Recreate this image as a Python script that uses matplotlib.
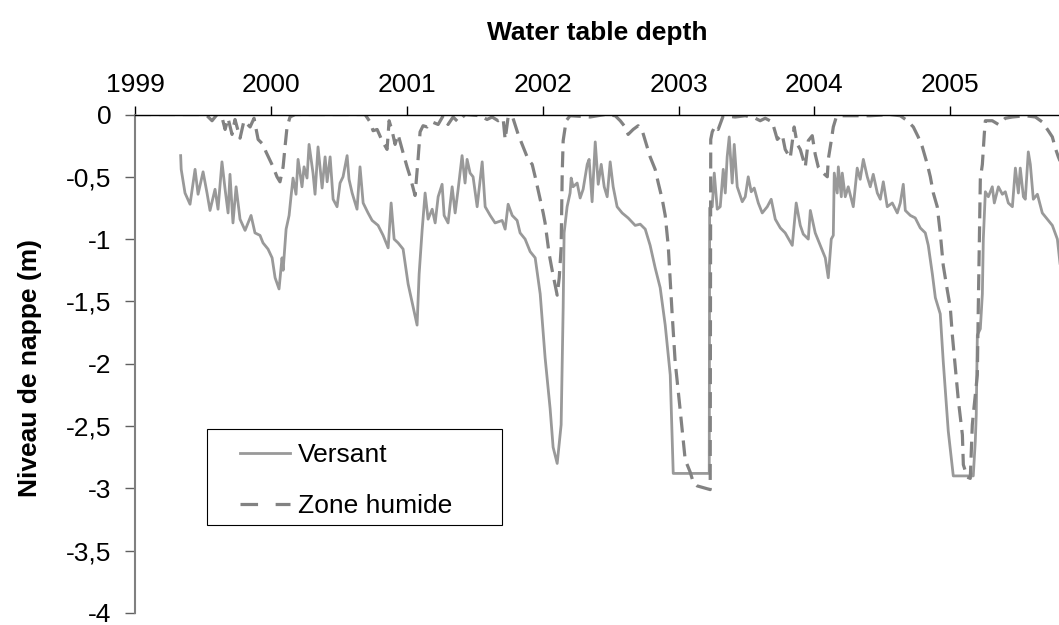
import numpy as np
import matplotlib
matplotlib.use("Agg")
import matplotlib.pyplot as plt
from matplotlib.patches import Rectangle
from matplotlib.lines import Line2D
from matplotlib.ticker import FuncFormatter

plt.rcParams['font.family'] = ['Liberation Sans', 'DejaVu Sans']

# decimal years / water table depth (m)
versant_t = [1999.336, 1999.340, 1999.368, 1999.405, 1999.442, 1999.464, 1999.501, 1999.530,
             1999.552, 1999.589, 1999.611, 1999.640, 1999.663, 1999.685, 1999.699, 1999.721,
             1999.744, 1999.773, 1999.810, 1999.854, 1999.883, 1999.920, 1999.942, 1999.979,
             2000.009, 2000.031, 2000.060, 2000.082, 2000.090, 2000.112, 2000.134, 2000.148,
             2000.163, 2000.185, 2000.200, 2000.229, 2000.244, 2000.266, 2000.281, 2000.310,
             2000.325, 2000.347, 2000.377, 2000.399, 2000.414, 2000.436, 2000.458, 2000.487,
             2000.509, 2000.531, 2000.561, 2000.575, 2000.598, 2000.634, 2000.656, 2000.679,
             2000.715, 2000.745, 2000.789, 2000.826, 2000.863, 2000.885, 2000.907, 2000.936,
             2000.973, 2001.010, 2001.076, 2001.091, 2001.113, 2001.135, 2001.157, 2001.187,
             2001.209, 2001.231, 2001.260, 2001.275, 2001.304, 2001.334, 2001.356, 2001.378,
             2001.407, 2001.429, 2001.444, 2001.466, 2001.488, 2001.518, 2001.555, 2001.577,
             2001.614, 2001.650, 2001.702, 2001.724, 2001.746, 2001.776, 2001.812, 2001.834,
             2001.871, 2001.908, 2001.945, 2001.967, 2001.982, 2002.018, 2002.055, 2002.077,
             2002.107, 2002.136, 2002.151, 2002.158, 2002.180, 2002.202, 2002.210, 2002.224,
             2002.254, 2002.276, 2002.298, 2002.328, 2002.342, 2002.364, 2002.387, 2002.409,
             2002.431, 2002.453, 2002.475, 2002.497, 2002.519, 2002.548, 2002.585, 2002.629,
             2002.681, 2002.718, 2002.755, 2002.791, 2002.828, 2002.865, 2002.902, 2002.939,
             2002.961, 2003.226, 2003.229, 2003.248, 2003.263, 2003.285, 2003.307, 2003.329,
             2003.344, 2003.358, 2003.373, 2003.395, 2003.410, 2003.432, 2003.469, 2003.491,
             2003.513, 2003.535, 2003.557, 2003.587, 2003.616, 2003.653, 2003.682, 2003.712,
             2003.749, 2003.785, 2003.837, 2003.866, 2003.896, 2003.918, 2003.955, 2003.970,
             2004.006, 2004.043, 2004.080, 2004.102, 2004.124, 2004.139, 2004.146, 2004.168,
             2004.176, 2004.198, 2004.205, 2004.227, 2004.249, 2004.286, 2004.315, 2004.337,
             2004.360, 2004.389, 2004.411, 2004.433, 2004.463, 2004.485, 2004.507, 2004.536,
             2004.573, 2004.610, 2004.632, 2004.654, 2004.669, 2004.706, 2004.742, 2004.779,
             2004.816, 2004.838, 2004.868, 2004.890, 2004.926, 2004.948, 2004.985, 2005.015,
             2005.022, 2005.169, 2005.184, 2005.191, 2005.199, 2005.221, 2005.236, 2005.243,
             2005.258, 2005.280, 2005.309, 2005.324, 2005.354, 2005.383, 2005.405, 2005.427,
             2005.457, 2005.479, 2005.501, 2005.515, 2005.538, 2005.552, 2005.574, 2005.589,
             2005.611, 2005.641, 2005.677, 2005.714, 2005.751, 2005.788, 2005.810]
versant_d = [-0.33, -0.44, -0.63, -0.72, -0.44, -0.64, -0.46, -0.63,
             -0.77, -0.60, -0.76, -0.38, -0.60, -0.79, -0.48, -0.87,
             -0.58, -0.84, -0.93, -0.81, -0.95, -0.97, -1.03, -1.08,
             -1.15, -1.31, -1.40, -1.15, -1.25, -0.92, -0.81, -0.66,
             -0.51, -0.64, -0.36, -0.58, -0.42, -0.51, -0.24, -0.47,
             -0.64, -0.26, -0.59, -0.34, -0.54, -0.34, -0.68, -0.74,
             -0.55, -0.50, -0.33, -0.52, -0.63, -0.76, -0.42, -0.71,
             -0.79, -0.85, -0.89, -0.97, -1.07, -0.71, -1.00, -1.03,
             -1.08, -1.36, -1.69, -1.28, -0.93, -0.63, -0.84, -0.76,
             -0.87, -0.66, -0.56, -0.81, -0.87, -0.58, -0.79, -0.60,
             -0.33, -0.55, -0.36, -0.47, -0.50, -0.74, -0.38, -0.74,
             -0.81, -0.87, -0.85, -0.92, -0.72, -0.81, -0.85, -0.95,
             -1.00, -1.10, -1.15, -1.32, -1.44, -1.95, -2.36, -2.67,
             -2.80, -2.49, -1.55, -0.95, -0.74, -0.63, -0.51, -0.58,
             -0.55, -0.67, -0.60, -0.40, -0.36, -0.70, -0.22, -0.56,
             -0.40, -0.58, -0.66, -0.38, -0.58, -0.74, -0.79, -0.83,
             -0.89, -0.88, -0.92, -1.05, -1.23, -1.39, -1.69, -2.09,
             -2.88, -2.88, -0.75, -0.74, -0.47, -0.76, -0.74, -0.44,
             -0.63, -0.34, -0.18, -0.55, -0.24, -0.58, -0.70, -0.66,
             -0.50, -0.62, -0.59, -0.71, -0.79, -0.74, -0.68, -0.84,
             -0.91, -0.95, -1.05, -0.71, -0.89, -0.96, -1.00, -0.77,
             -0.95, -1.05, -1.15, -1.31, -1.00, -0.97, -0.47, -0.63,
             -0.42, -0.66, -0.47, -0.66, -0.58, -0.74, -0.43, -0.52,
             -0.36, -0.50, -0.58, -0.48, -0.63, -0.68, -0.54, -0.74,
             -0.71, -0.79, -0.71, -0.56, -0.77, -0.81, -0.83, -0.91,
             -0.95, -1.05, -1.28, -1.47, -1.60, -1.98, -2.54, -2.83,
             -2.90, -2.90, -2.62, -2.41, -1.77, -1.72, -1.44, -1.00,
             -0.62, -0.66, -0.58, -0.71, -0.58, -0.64, -0.62, -0.71,
             -0.74, -0.43, -0.63, -0.43, -0.66, -0.68, -0.30, -0.40,
             -0.68, -0.64, -0.79, -0.84, -0.89, -1.00, -1.22]

humide_t = [1999.000, 1999.479, 1999.530, 1999.567, 1999.604, 1999.640, 1999.663, 1999.685,
            1999.714, 1999.736, 1999.773, 1999.802, 1999.847, 1999.876, 1999.906, 1999.942,
            1999.964, 2000.016, 2000.045, 2000.067, 2000.090, 2000.104, 2000.119, 2000.141,
            2000.178, 2000.693, 2000.730, 2000.752, 2000.782, 2000.818, 2000.855, 2000.870,
            2000.892, 2000.914, 2000.936, 2000.966, 2001.002, 2001.025, 2001.061, 2001.083,
            2001.098, 2001.120, 2001.150, 2001.187, 2001.231, 2001.268, 2001.304, 2001.341,
            2001.378, 2001.429, 2001.540, 2001.591, 2001.628, 2001.672, 2001.709, 2001.724,
            2001.746, 2001.776, 2001.820, 2001.849, 2001.893, 2001.923, 2001.945, 2001.982,
            2002.004, 2002.018, 2002.048, 2002.070, 2002.092, 2002.107, 2002.122, 2002.136,
            2002.144, 2002.151, 2002.173, 2002.202, 2002.349, 2002.460, 2002.534, 2002.571,
            2002.607, 2002.629, 2002.666, 2002.703, 2002.733, 2002.755, 2002.791, 2002.828,
            2002.851, 2002.880, 2002.902, 2002.924, 2002.953, 2002.975, 2003.012, 2003.049,
            2003.086, 2003.108, 2003.137, 2003.233, 2003.237, 2003.248, 2003.270, 2003.292,
            2003.329, 2003.417, 2003.491, 2003.565, 2003.601, 2003.638, 2003.690, 2003.727,
            2003.763, 2003.785, 2003.822, 2003.851, 2003.874, 2003.896, 2003.933, 2003.955,
            2003.984, 2004.006, 2004.028, 2004.065, 2004.095, 2004.102, 2004.124, 2004.139,
            2004.161, 2004.190, 2004.411, 2004.558, 2004.632, 2004.684, 2004.728, 2004.764,
            2004.794, 2004.831, 2004.853, 2004.875, 2004.904, 2004.926, 2004.948, 2004.978,
            2005.000, 2005.015, 2005.037, 2005.059, 2005.089, 2005.096, 2005.125, 2005.147,
            2005.162, 2005.169, 2005.199, 2005.206, 2005.214, 2005.221, 2005.236, 2005.250,
            2005.258, 2005.309, 2005.354, 2005.405, 2005.457, 2005.552, 2005.626, 2005.677,
            2005.721, 2005.751, 2005.773, 2005.795, 2005.825]
humide_d = [0.00, 0.00, -0.01, -0.05, 0.00, -0.02, -0.12, -0.03,
            -0.16, -0.04, -0.19, -0.05, -0.10, -0.03, -0.20, -0.24,
            -0.30, -0.42, -0.50, -0.54, -0.42, -0.26, -0.10, -0.02,
            0.00, 0.00, -0.06, -0.13, -0.12, -0.21, -0.28, -0.05,
            -0.13, -0.24, -0.16, -0.28, -0.42, -0.50, -0.65, -0.36,
            -0.14, -0.09, -0.10, -0.06, -0.08, -0.01, -0.08, -0.02,
            -0.06, 0.00, -0.01, -0.04, -0.02, -0.05, -0.03, -0.20,
            -0.02, -0.01, -0.16, -0.24, -0.36, -0.40, -0.50, -0.68,
            -0.79, -0.87, -1.12, -1.25, -1.37, -1.45, -1.31, -1.07,
            -0.47, -0.21, -0.05, -0.01, -0.02, 0.00, -0.01, -0.05,
            -0.10, -0.16, -0.12, -0.09, -0.13, -0.21, -0.34, -0.44,
            -0.55, -0.68, -0.81, -1.05, -1.60, -1.98, -2.37, -2.77,
            -2.87, -2.95, -2.98, -3.01, -0.20, -0.14, -0.09, -0.12,
            -0.01, -0.02, -0.01, -0.03, -0.05, -0.03, -0.06, -0.20,
            -0.16, -0.28, -0.35, -0.10, -0.24, -0.28, -0.42, -0.21,
            -0.17, -0.32, -0.42, -0.47, -0.50, -0.36, -0.21, -0.10,
            -0.02, -0.01, -0.01, 0.00, -0.01, -0.05, -0.10, -0.18,
            -0.26, -0.40, -0.50, -0.63, -0.74, -0.95, -1.21, -1.41,
            -1.55, -1.77, -2.03, -2.29, -2.57, -2.81, -2.91, -2.92,
            -2.49, -2.41, -2.09, -1.55, -1.00, -0.52, -0.40, -0.16,
            -0.05, -0.05, -0.08, -0.03, -0.02, -0.01, -0.02, -0.06,
            -0.13, -0.18, -0.27, -0.34, -0.42]

years = [1999, 2000, 2001, 2002, 2003, 2004, 2005]
depth_ticks = [0, -0.5, -1, -1.5, -2, -2.5, -3, -3.5, -4]

fig = plt.figure(figsize=(10.59, 6.25), dpi=100)
ax = fig.add_axes([0.12748, 0.0192, 0.87252, 0.7976])

solid_kw = dict(color='#999999', lw=2.0)
dash_kw = dict(color='#828282', lw=2.3)
ax.plot(versant_t, versant_d, **solid_kw)
ax.plot(humide_t, humide_d, dashes=(5, 2.5), **dash_kw)

ax.set_xlim(1999, 2005.8)
ax.set_ylim(-4, 0)
ax.xaxis.tick_top()
ax.set_xticks(years)
ax.set_xticklabels([str(y) for y in years])
ax.set_yticks(depth_ticks)
ax.yaxis.set_major_formatter(FuncFormatter(lambda v, p: ('%g' % v).replace('.', ',')))

for s in ['bottom', 'right']:
    ax.spines[s].set_visible(False)
ax.spines['top'].set_color('black')
ax.spines['top'].set_linewidth(1.0)
ax.spines['left'].set_color('#808080')
ax.spines['left'].set_linewidth(1.5)
ax.tick_params(axis='x', direction='out', length=6.5, width=1, color='black',
               pad=6, labelsize=19)
ax.tick_params(axis='y', direction='out', length=7, width=1, color='#606060',
               pad=10, labelsize=19)

fig.text(0.5637, 0.936, 'Water table depth', ha='center', va='baseline',
         fontsize=19, fontweight='bold')
fig.text(30 / 1059, 1 - 368 / 625, 'Niveau de nappe (m)', rotation=90,
         ha='center', va='center', fontsize=19, fontweight='bold')

handles = [Line2D([], [], **solid_kw), Line2D([], [], dashes=(5.5, 5.5), **dash_kw)]
ax.legend(handles, ['Versant', 'Zone humide'], loc='upper left',
          bbox_to_anchor=(0.1136, 0.341), frameon=False, fontsize=19, borderpad=0,
          borderaxespad=0, handlelength=1.9, handletextpad=0.3, labelspacing=1.02)
ax.add_patch(Rectangle((0.0779, 0.1765), 0.3193, 0.1926, transform=ax.transAxes,
                       facecolor='none', edgecolor='black', lw=0.8, clip_on=False,
                       zorder=1))

fig.savefig('out.png', dpi=100)
